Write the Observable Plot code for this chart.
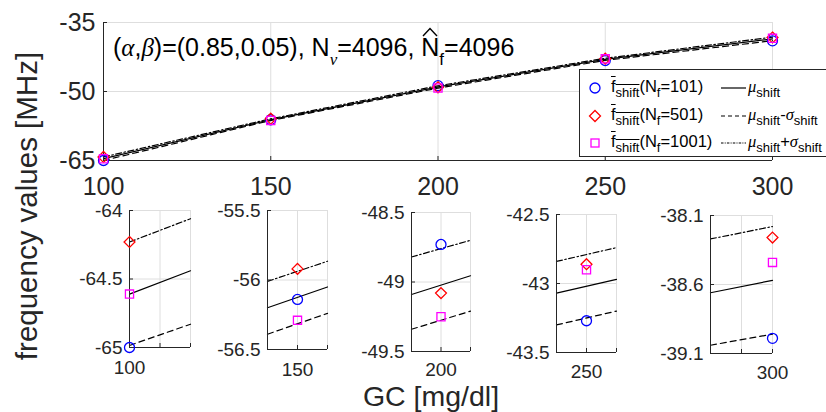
<!DOCTYPE html>
<html><head><meta charset="utf-8">
<script src="https://cdn.jsdelivr.net/npm/d3@7"></script>
<script src="https://cdn.jsdelivr.net/npm/@observablehq/plot@0.6"></script>
<style>
body{margin:0;background:#fff;}
#fig{position:relative;width:826px;height:412px;overflow:hidden;background:#fff;font-family:"Liberation Sans",Arial,Helvetica,sans-serif;color:#262626;}
#fig svg{position:absolute;}
.gk{font-family:"Liberation Serif","DejaVu Serif",serif;font-style:italic;}
.sub{font-size:13px;vertical-align:-5px;}
#legend{position:absolute;left:579px;top:69px;width:280px;height:86px;border:1px solid #262626;background:#fff;font-size:16.5px;color:#000;}
#legend .row{position:absolute;height:20px;line-height:20px;white-space:nowrap;}
#anno{position:absolute;left:113px;top:35px;font-size:25px;line-height:25px;white-space:nowrap;color:#000;}
#anno .s{font-size:17px;vertical-align:-9px;}
#anno .hatN{position:relative;display:inline-block;}
#anno .hatN svg{position:absolute;left:0;top:-8px;overflow:visible;}
</style></head><body><div id="fig"></div>
<script>
// ---- data ----
const GC = [100, 150, 200, 250, 300];
const fShift101  = [-65.00, -56.14, -48.73, -43.27, -38.99];
const fShift501  = [-64.23, -55.92, -49.08, -42.86, -38.26];
const fShift1001 = [-64.61, -56.29, -49.25, -42.90, -38.44];

const curveGC      = [100, 101, 149.5, 150.5, 199.5, 200.5, 249.5, 250.5, 299, 300];
const muShift      = [-64.61, -64.44, -56.20, -56.05, -49.09, -48.955, -43.07, -42.97, -38.66, -38.57];
const muMinusSigma = [-64.985, -64.83, -56.39, -56.24, -49.34, -49.21, -43.30, -43.20, -39.04, -38.96];
const muPlusSigma  = [-64.23, -64.06, -56.01, -55.865, -48.82, -48.70, -42.84, -42.74, -38.27, -38.18];

const mainXTicks = [100, 150, 200, 250, 300];
const mainYTicks = [-65, -50, -35];
const insetXDomains = [[100, 101], [149.5, 150.5], [199.5, 200.5], [249.5, 250.5], [299, 300]];
const insetYTicks = [[-65, -64.5, -64], [-56.5, -56, -55.5], [-49.5, -49, -48.5], [-43.5, -43, -42.5], [-39.1, -38.6, -38.1]];

// ---- tables built from the arrays ----
const curves = curveGC.map((g, i) => ({gc: g, mu: muShift[i], lo: muMinusSigma[i], hi: muPlusSigma[i]}));
const points = GC.flatMap((g, i) => [
  {gc: g, v: fShift101[i], set: "101"},
  {gc: g, v: fShift501[i], set: "501"},
  {gc: g, v: fShift1001[i], set: "1001"}
]);

// ---- layout ----
const mainBox = {x0: 103, x1: 772, y0: 22, y1: 160};
const insetBoxes = [
  {x0: 129, x1: 190, y0: 210, y1: 347, pad: 13},
  {x0: 267, x1: 327, y0: 210, y1: 349, pad: 13},
  {x0: 411, x1: 470, y0: 212, y1: 351, pad: 11},
  {x0: 556, x1: 616, y0: 214, y1: 352, pad: 12},
  {x0: 710, x1: 772, y0: 215, y1: 353, pad: 12}
];

const fig = document.getElementById("fig");
const LW = 1.2;

function panel({box, xDomain, yDomain, xTicks, xFmt, yTicks, font, xPad, yPad, curveData}) {
  const mL = 90, mR = 14, mT = 14, mB = 50;
  const w = box.x1 - box.x0, h = box.y1 - box.y0;
  const svg = Plot.plot({
    width: w + mL + mR, height: h + mT + mB,
    marginLeft: mL, marginRight: mR, marginTop: mT, marginBottom: mB,
    x: {domain: xDomain, label: null},
    y: {domain: yDomain, label: null},
    style: {fontFamily: '"Liberation Sans", Arial, sans-serif', fontSize: font + "px", color: "#262626", background: "transparent", overflow: "visible"},
    marks: [
      Plot.gridX({ticks: xTicks, stroke: "#dedede", strokeOpacity: 1, strokeWidth: 1}),
      Plot.gridY({ticks: yTicks, stroke: "#dedede", strokeOpacity: 1, strokeWidth: 1}),
      Plot.line(curveData, {x: "gc", y: "mu", stroke: "black", strokeWidth: LW}),
      Plot.line(curveData, {x: "gc", y: "lo", stroke: "black", strokeWidth: LW, strokeDasharray: "6,4"}),
      Plot.line(curveData, {x: "gc", y: "hi", stroke: "black", strokeWidth: LW, strokeDasharray: "6,2.5,1.5,2.5"}),
      Plot.ruleX([xDomain[0]], {stroke: "#262626", strokeWidth: 1}),
      Plot.ruleY([yDomain[0]], {stroke: "#262626", strokeWidth: 1}),
      Plot.axisX({ticks: xTicks, tickSize: -4, tickPadding: xPad + 4, tickFormat: xFmt, fontSize: font, label: null}),
      Plot.axisY({ticks: yTicks, tickSize: -4, tickPadding: yPad + 4, tickFormat: d => String(d), fontSize: font, label: null}),
      Plot.dot(points.filter(p => p.set === "101"), {x: "gc", y: "v", symbol: "circle", r: 5, stroke: "#0000ff", strokeWidth: 1.3}),
      Plot.dot(points.filter(p => p.set === "501"), {x: "gc", y: "v", symbol: "diamond2", r: 4.9, stroke: "#ff0000", strokeWidth: 1.3}),
      Plot.dot(points.filter(p => p.set === "1001"), {x: "gc", y: "v", symbol: "square", r: 4.6, stroke: "#ff00ff", strokeWidth: 1.3})
    ]
  });
  svg.style.left = (box.x0 - mL) + "px";
  svg.style.top = (box.y0 - mT) + "px";
  fig.appendChild(svg);
}

// main axes
panel({box: mainBox, xDomain: [100, 300], yDomain: [-65, -35], xTicks: mainXTicks, xFmt: d => String(d),
  yTicks: mainYTicks, font: 25, xPad: 17, yPad: 8, curveData: curves});

// insets
insetXDomains.forEach((dom, i) => {
  const mid = (dom[0] + dom[1]) / 2;
  const yt = insetYTicks[i];
  panel({box: insetBoxes[i], xDomain: dom, yDomain: [yt[0], yt[2]], xTicks: [dom[0], mid, dom[1]],
    xFmt: d => (d === GC[i] ? String(d) : ""), yTicks: yt, font: 19, xPad: insetBoxes[i].pad, yPad: 7,
    curveData: curves.filter(c => c.gc >= dom[0] && c.gc <= dom[1])});
});

// axis titles
const ov = d3.select(fig).append("svg").attr("width", 826).attr("height", 412).style("left", "0px").style("top", "0px")
  .style("font-family", '"Liberation Sans", Arial, sans-serif').attr("fill", "#262626");
ov.append("text").attr("transform", "translate(37,206) rotate(-90)").attr("text-anchor", "middle").attr("font-size", 29.5).text("frequency values [MHz]");
ov.append("text").attr("x", 431).attr("y", 406).attr("text-anchor", "middle").attr("font-size", 28.5).text("GC [mg/dl]");

// annotation
const anno = document.createElement("div");
anno.id = "anno";
anno.innerHTML = '(<span class="gk">α</span>,<span class="gk">β</span>)=(0.85,0.05), N<span class="s gk">ν</span>=4096, ' +
  '<span class="hatN">N<svg width="18" height="10"><path d="M2,9L9,1.5L16,9" fill="none" stroke="#000" stroke-width="1.4"/></svg></span><span class="s">f</span>=4096';
fig.appendChild(anno);

// legend
const legend = document.createElement("div");
legend.id = "legend";
const rows = [
  {cy: 17.5, n: "101", sym: "circle", color: "#0000ff", dash: null, right: '<span class="gk">μ</span><span class="sub">shift</span>'},
  {cy: 45.5, n: "501", sym: "diamond", color: "#ff0000", dash: "4,3", right: '<span class="gk">μ</span><span class="sub">shift</span>-<span class="gk">σ</span><span class="sub">shift</span>'},
  {cy: 73, n: "1001", sym: "square", color: "#ff00ff", dash: "2.5,1.2,1,1.2", right: '<span class="gk">μ</span><span class="sub">shift</span>+<span class="gk">σ</span><span class="sub">shift</span>'}
];
rows.forEach(r => {
  const ls = d3.create("svg").attr("width", 280).attr("height", 20).style("left", "0px").style("top", (r.cy - 10) + "px");
  if (r.sym === "circle") ls.append("circle").attr("cx", 15).attr("cy", 10).attr("r", 5).attr("fill", "none").attr("stroke", r.color).attr("stroke-width", 1.3);
  if (r.sym === "diamond") ls.append("path").attr("d", "M15,4.5L20.5,10L15,15.5L9.5,10Z").attr("fill", "none").attr("stroke", r.color).attr("stroke-width", 1.3);
  if (r.sym === "square") ls.append("rect").attr("x", 11).attr("y", 6).attr("width", 8).attr("height", 8).attr("fill", "none").attr("stroke", r.color).attr("stroke-width", 1.3);
  const ln = ls.append("line").attr("x1", 141).attr("x2", 166).attr("y1", 10).attr("y2", 10).attr("stroke", "black").attr("stroke-width", LW);
  if (r.dash) ln.attr("stroke-dasharray", r.dash);
  legend.appendChild(ls.node());
  const t = document.createElement("div");
  t.className = "row";
  t.style.left = "31px"; t.style.top = (r.cy - 12) + "px";
  t.innerHTML = '<span style="text-decoration:overline">f<span class="sub">shift</span></span>(N<span class="sub">f</span>=' + r.n + ')';
  legend.appendChild(t);
  const t2 = document.createElement("div");
  t2.className = "row";
  t2.style.left = "168px"; t2.style.top = (r.cy - 12) + "px";
  t2.innerHTML = r.right;
  legend.appendChild(t2);
});
fig.appendChild(legend);
</script></body></html>
